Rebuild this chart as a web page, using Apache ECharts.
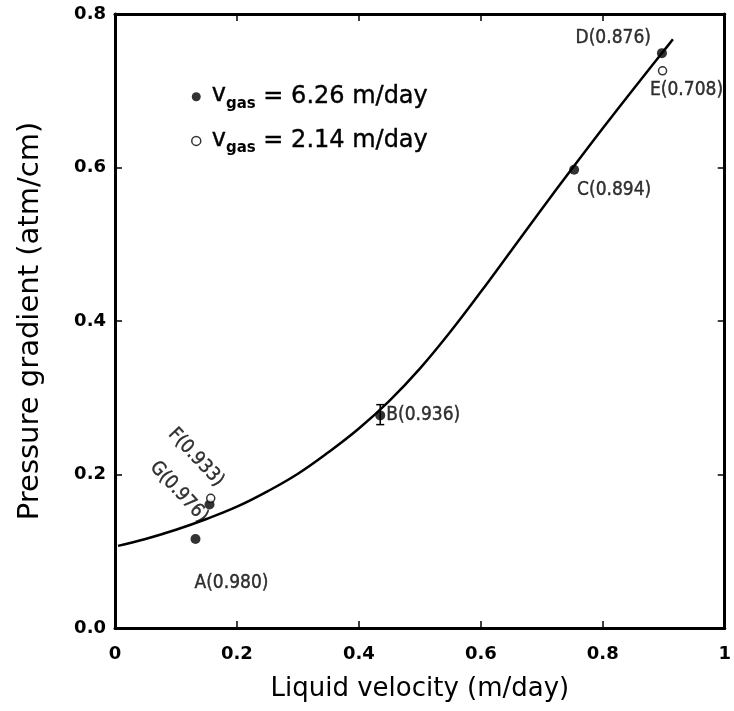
<!DOCTYPE html>
<html>
<head>
<meta charset="utf-8">
<script src="https://cdn.jsdelivr.net/npm/echarts@6/dist/echarts.min.js"></script>
<style>
  html, body { margin: 0; padding: 0; background: #fff; }
  #chart { width: 734px; height: 711px; }
</style>
</head>
<body>
<div id="chart"></div>
<script>
// Measured points, liquid velocity (m/day) vs pressure gradient (atm/cm)
const fastGasNames = ['A', 'B', 'C', 'D', 'G'];
const fastGasX = [0.132, 0.435, 0.753, 0.897, 0.155];
const fastGasY = [0.116, 0.277, 0.597, 0.749, 0.161];
const fastGasSat = ['0.980', '0.936', '0.894', '0.876', '0.976'];

const slowGasNames = ['E', 'F'];
const slowGasX = [0.898, 0.157];
const slowGasY = [0.726, 0.169];
const slowGasSat = ['0.708', '0.933'];

// Error bar on point B
const errX = [0.435];
const errLow = [0.265];
const errHigh = [0.291];

// Model curve
const curveX = [0.005, 0.05, 0.10, 0.15, 0.20, 0.25, 0.30, 0.35, 0.40, 0.45, 0.50, 0.55, 0.60, 0.65, 0.70, 0.75, 0.80, 0.85, 0.90, 0.915];
const curveY = [0.107, 0.116, 0.128, 0.142, 0.158, 0.178, 0.201, 0.229, 0.260, 0.296, 0.338, 0.386, 0.438, 0.492, 0.546, 0.599, 0.651, 0.702, 0.752, 0.767];

const xTickValues = [0, 0.2, 0.4, 0.6, 0.8, 1];
const yTickValues = [0, 0.2, 0.4, 0.6, 0.8];

const legendSpeeds = ['6.26', '2.14'];

const FONT = 'DejaVu Sans';
const NARROW = 'DejaVu Sans Condensed, DejaVu Sans';

// per-point label placement (offsets of rotated labels are in the label's own frame)
const labelPlace = {
  A: { position: 'bottom', offset: [36, 25] },
  B: { position: 'right', offset: [-4, 0] },
  C: { position: 'bottom', offset: [40, 1] },
  D: { position: 'left', offset: [-1, -15] },
  G: { position: 'inside', offset: [-30, 14], rotate: -47 },
  E: { position: 'bottom', offset: [24, 0] },
  F: { position: 'inside', offset: [-40, -17], rotate: -47 }
};

function pointData(names, xs, ys, sats) {
  return names.map((n, i) => {
    const p = labelPlace[n];
    return {
      name: n,
      value: [xs[i], ys[i], sats[i]],
      label: {
        show: true,
        position: p.position,
        offset: p.offset,
        rotate: p.rotate || 0,
        color: '#000',
        textBorderColor: '#000',
        textBorderWidth: 0.4,
        fontFamily: NARROW,
        fontSize: 19,
        formatter: n + '(' + sats[i] + ')'
      }
    };
  });
}

const chart = echarts.init(document.getElementById('chart'), null, { renderer: 'canvas' });

const axisLine = { show: true, onZero: false, lineStyle: { color: '#000', width: 3 } };
const tickIn = { show: true, inside: true, length: 7, lineStyle: { color: '#000', width: 1.5 } };

const option = {
  backgroundColor: '#fff',
  animation: false,
  grid: { left: 115, right: 3, top: 14, bottom: 83, containLabel: false },
  legend: {
    orient: 'vertical',
    left: 186,
    top: 78,
    itemGap: 16,
    itemWidth: 9,
    itemHeight: 9,
    selectedMode: false,
    data: [
      { name: 'fast', icon: 'circle', itemStyle: { color: '#000', borderWidth: 0 } },
      { name: 'slow', icon: 'circle', itemStyle: { color: '#fff', borderColor: '#000', borderWidth: 1.5 } }
    ],
    formatter: function (name) {
      const speed = name === 'fast' ? legendSpeeds[0] : legendSpeeds[1];
      return '{v|v}{s|gas}{t| = ' + speed + ' m/day}';
    },
    textStyle: {
      color: '#000',
      fontFamily: FONT,
      rich: {
        v: { fontSize: 24, fontFamily: FONT, color: '#000', textBorderColor: '#000', textBorderWidth: 0.4, padding: [0, 0, 3, 6] },
        s: { fontSize: 15, fontWeight: 'bold', fontFamily: FONT, color: '#000', padding: [14, 0, 0, 0] },
        t: { fontSize: 24, fontFamily: FONT, color: '#000', textBorderColor: '#000', textBorderWidth: 0.4 }
      }
    }
  },
  xAxis: [
    {
      type: 'value', min: 0, max: 1, interval: 0.2,
      name: 'Liquid velocity (m/day)', nameLocation: 'middle', nameGap: 48,
      nameTextStyle: { fontFamily: FONT, fontSize: 26, color: '#000' },
      axisLine: axisLine, axisTick: tickIn, splitLine: { show: false },
      axisLabel: {
        color: '#000', fontFamily: FONT, fontWeight: 'bold', fontSize: 18, margin: 17,
        formatter: v => (v === 0 ? '0' : v === 1 ? '1' : v.toFixed(1))
      }
    },
    {
      type: 'value', min: 0, max: 1, interval: 0.2, position: 'top',
      axisLine: axisLine, axisTick: tickIn, axisLabel: { show: false }, splitLine: { show: false }
    }
  ],
  yAxis: [
    {
      type: 'value', min: 0, max: 0.8, interval: 0.2,
      name: 'Pressure gradient (atm/cm)', nameLocation: 'middle', nameGap: 70,
      nameTextStyle: { fontFamily: FONT, fontSize: 29, color: '#000' },
      axisLine: axisLine, axisTick: tickIn, splitLine: { show: false },
      axisLabel: {
        color: '#000', fontFamily: FONT, fontWeight: 'bold', fontSize: 18, margin: 9,
        formatter: v => v.toFixed(1)
      }
    },
    {
      type: 'value', min: 0, max: 0.8, interval: 0.2, position: 'right',
      axisLine: axisLine, axisTick: tickIn, axisLabel: { show: false }, splitLine: { show: false }
    }
  ],
  series: [
    {
      name: 'model',
      type: 'line',
      smooth: 0.4,
      showSymbol: false,
      data: curveX.map((x, i) => [x, curveY[i]]),
      lineStyle: { color: '#000', width: 2.5 },
      z: 2
    },
    {
      name: 'error',
      type: 'custom',
      data: errX.map((x, i) => [x, errLow[i], errHigh[i]]),
      renderItem: function (params, api) {
        const lo = api.coord([api.value(0), api.value(1)]);
        const hi = api.coord([api.value(0), api.value(2)]);
        const cap = 4;
        const style = { stroke: '#000', lineWidth: 1.5 };
        return {
          type: 'group',
          children: [
            { type: 'line', shape: { x1: lo[0], y1: lo[1], x2: hi[0], y2: hi[1] }, style: style },
            { type: 'line', shape: { x1: lo[0] - cap, y1: lo[1], x2: lo[0] + cap, y2: lo[1] }, style: style },
            { type: 'line', shape: { x1: hi[0] - cap, y1: hi[1], x2: hi[0] + cap, y2: hi[1] }, style: style }
          ]
        };
      },
      z: 3
    },
    {
      name: 'fast',
      type: 'scatter',
      symbol: 'circle',
      symbolSize: 10,
      itemStyle: { color: '#000' },
      data: pointData(fastGasNames, fastGasX, fastGasY, fastGasSat),
      z: 4
    },
    {
      name: 'slow',
      type: 'scatter',
      symbol: 'circle',
      symbolSize: 8,
      itemStyle: { color: '#fff', borderColor: '#000', borderWidth: 1.5 },
      data: pointData(slowGasNames, slowGasX, slowGasY, slowGasSat),
      z: 5
    }
  ]
};

chart.setOption(option);
</script>
</body>
</html>
